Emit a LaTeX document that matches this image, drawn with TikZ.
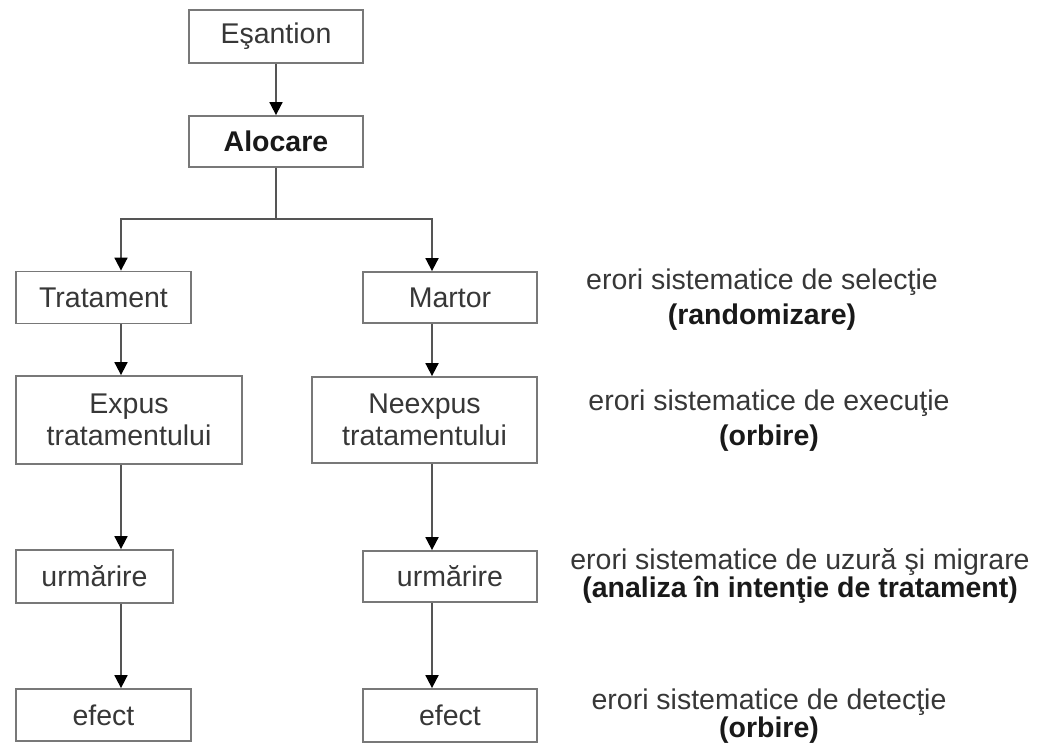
\documentclass[tikz,border=0pt]{standalone}
\usepackage{fontspec}
\setmainfont{Liberation Sans}
\usetikzlibrary{arrows.meta}
\definecolor{boxline}{RGB}{120,120,120}
\definecolor{wire}{RGB}{85,85,85}
\definecolor{ink}{RGB}{55,55,55}
\definecolor{inkbold}{RGB}{25,25,25}
\tikzset{
  stagebox/.style={draw=boxline, line width=1.8pt, fill=white, text=ink,
    inner sep=0pt, align=center, font=\fontsize{28.5}{28}\selectfont},
  wireline/.style={draw=wire, line width=1.8pt},
  flow/.style={wireline, -{Triangle[width=13pt,length=13pt,color=black]}},
  note/.style={text=ink, inner sep=0pt, align=center,
    font=\fontsize{28.5}{28}\selectfont}
}
\begin{document}
\begin{tikzpicture}[x=1pt, y=-1pt]
  \useasboundingbox (0,0) rectangle (1038,746);

  % top of the chart
  \node[stagebox, minimum width=174pt, minimum height=53pt] (esantion) at (276,36.5) {Eşantion};
  \node[stagebox, minimum width=174pt, minimum height=51pt, text=inkbold, font=\fontsize{28.5}{28}\selectfont\bfseries] (alocare) at (276,141.5) {Alocare};

  % treatment arm
  \node[stagebox, minimum width=175pt, minimum height=52pt] (tratament) at (103.5,297.5) {Tratament};
  \node[stagebox, minimum width=226pt, minimum height=88pt] (expus) at (129,420) {Expus\\[4pt]tratamentului};
  \node[stagebox, minimum width=157pt, minimum height=53pt] (urmL) at (94.5,576.5) {urmărire};
  \node[stagebox, minimum width=175pt, minimum height=52pt] (efectL) at (103.5,715) {efect};

  % control arm
  \node[stagebox, minimum width=174pt, minimum height=51pt] (martor) at (450,297.5) {Martor};
  \node[stagebox, minimum width=225pt, minimum height=86pt] (neexpus) at (424.5,420) {Neexpus\\[4pt]tratamentului};
  \node[stagebox, minimum width=174pt, minimum height=51pt] (urmR) at (450,576.5) {urmărire};
  \node[stagebox, minimum width=174pt, minimum height=53pt] (efectR) at (450,715.5) {efect};

  % bias notes
  \node[note] (sel) at (762,299.5) {erori sistematice de selecţie\\[7pt]{\bfseries\color{inkbold}(randomizare)}};
  \node[note] (exec) at (769,420.5) {erori sistematice de execuţie\\[7pt]{\bfseries\color{inkbold}(orbire)}};
  \node[note] (uzura) at (800,576) {erori sistematice de uzură şi migrare\\{\bfseries\color{inkbold}(analiza în intenţie de tratament)}};
  \node[note] (detect) at (769,716) {erori sistematice de detecţie\\{\bfseries\color{inkbold}(orbire)}};

  % connectors
  \coordinate (fork) at (276,219);
  \coordinate (colL) at (121,219);
  \coordinate (colR) at (432,219);

  \draw[flow] (esantion.south) -- (alocare.north);
  \draw[wireline] (alocare.south) -- (fork);
  \draw[flow] (fork) -- (colL) -- (tratament.north -| colL);
  \draw[flow] (fork) -- (colR) -- (martor.north -| colR);

  \draw[flow] (tratament.south -| colL) -- (expus.north -| colL);
  \draw[flow] (expus.south -| colL) -- (urmL.north -| colL);
  \draw[flow] (urmL.south -| colL) -- (efectL.north -| colL);

  \draw[flow] (martor.south -| colR) -- (neexpus.north -| colR);
  \draw[flow] (neexpus.south -| colR) -- (urmR.north -| colR);
  \draw[flow] (urmR.south -| colR) -- (efectR.north -| colR);
\end{tikzpicture}
\end{document}
